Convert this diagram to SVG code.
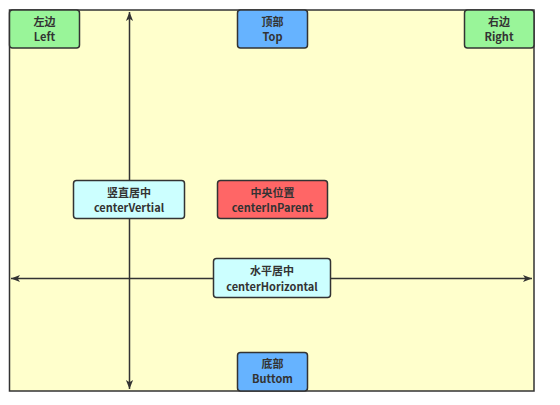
<svg xmlns="http://www.w3.org/2000/svg" width="560" height="405" viewBox="0 0 560 405">
<defs>
<marker id="ah" viewBox="0 0 10 10" refX="10" refY="5" markerWidth="10" markerHeight="9" orient="auto-start-reverse" markerUnits="userSpaceOnUse">
<path d="M0,1 L10,5 L0,9 L2.5,5 Z" fill="#333"/>
</marker>
<style>
.node rect{stroke:#333;stroke-width:1.5}
.green{fill:#99F599}
.blue{fill:#66B3FF}
.cyan{fill:#CCFFFF}
.red{fill:#FF6666}
text{font-family:"Noto Sans CJK SC","Liberation Sans",sans-serif;font-size:11px;font-weight:bold;fill:#333;text-anchor:middle}
.conn line{stroke:#333;stroke-width:1.5}
</style>
</defs>
<rect x="0" y="0" width="560" height="405" fill="#fff"/>
<rect id="frame" x="9.5" y="10" width="524.5" height="381" fill="#FFFFCC" stroke="#333" stroke-width="1.5"/>
<g id="connectors" class="conn">
<line x1="129.5" y1="12" x2="129.5" y2="389" marker-start="url(#ah)" marker-end="url(#ah)"/>
<line x1="11" y1="278.5" x2="532" y2="278.5" marker-start="url(#ah)" marker-end="url(#ah)"/>
</g>
<g id="left" class="node"><rect class="green" x="9.5" y="10" width="70" height="38" rx="3"/><text x="44.5" y="26">左边</text><text x="44.5" y="41">Left</text></g>
<g id="top" class="node"><rect class="blue" x="237.5" y="10" width="70" height="38" rx="3"/><text x="272.5" y="26">顶部</text><text x="272.5" y="41">Top</text></g>
<g id="right" class="node"><rect class="green" x="464.5" y="10" width="69.5" height="38" rx="3"/><text x="499" y="26">右边</text><text x="499" y="41">Right</text></g>
<g id="centerVertial" class="node"><rect class="cyan" x="73.5" y="180.5" width="111" height="38" rx="3"/><text x="129" y="197">竖直居中</text><text x="129" y="212">centerVertial</text></g>
<g id="centerInParent" class="node"><rect class="red" x="217.5" y="180.5" width="110" height="38" rx="3"/><text x="272.5" y="197">中央位置</text><text x="272.5" y="212">centerInParent</text></g>
<g id="centerHorizontal" class="node"><rect class="cyan" x="213.5" y="258.5" width="117" height="39" rx="3"/><text x="272" y="275">水平居中</text><text x="272" y="291">centerHorizontal</text></g>
<g id="bottom" class="node"><rect class="blue" x="237.5" y="352.5" width="70" height="38.5" rx="3"/><text x="272.5" y="368">底部</text><text x="272.5" y="383">Buttom</text></g>
</svg>
